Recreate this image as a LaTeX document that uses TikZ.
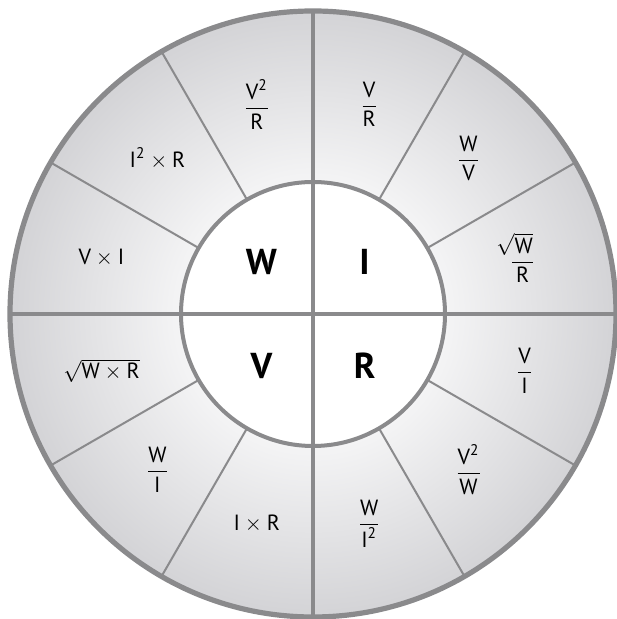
\documentclass[tikz,border=0pt]{standalone}
\usepackage{amsmath}
\usepackage{fontspec}
\setmainfont{PT Sans}
\setsansfont{PT Sans}
\usepackage{tikz}
\definecolor{rimgray}{HTML}{8A8A8C}
\definecolor{ringlight}{HTML}{F4F4F5}
\definecolor{ringdark}{HTML}{D3D3D6}
\pgfdeclareradialshading{ringshade}{\pgfpoint{0bp}{0bp}}{color(0bp)=(ringlight); color(11bp)=(ringlight); color(25bp)=(ringdark); color(50bp)=(ringdark)}
\newcommand{\tq}[1]{\text{#1}}

\begin{document}
\begin{tikzpicture}[x=0.5pt, y=0.5pt, font=\fontsize{11}{13}\selectfont,
    rim/.style={draw=rimgray, line width=2.6pt},
    cross/.style={draw=rimgray, line width=2pt},
    spoke/.style={draw=rimgray, line width=1pt},
    qty/.style={font=\fontsize{18}{21}\selectfont\bfseries}]
	\useasboundingbox (0,0) rectangle (616,619);
	\begin{scope}[shift={(313,305)}]
		% ring and hub
		\shade[shading=ringshade] (0,0) circle[radius=303];
		\fill[white] (0,0) circle[radius=132];
		\draw[spoke] (30:132) -- (30:303) (60:132) -- (60:303)
			(120:132) -- (120:303) (150:132) -- (150:303)
			(210:132) -- (210:303) (240:132) -- (240:303)
			(300:132) -- (300:303) (330:132) -- (330:303);
		\draw[cross] (180:303) -- (0:303) (90:303) -- (270:303);
		\draw[cross] (0,0) circle[radius=132];
		\draw[rim] (0,0) circle[radius=303];
		% quantities
		\node[qty] (W) at (135:73) {W};
		\node[qty] (I) at (45:73) {I};
		\node[qty] (V) at (225:73) {V};
		\node[qty] (R) at (315:73) {R};
		% formulas
		\node (IWR) at (15:217) {$\dfrac{\mkern-13mu\sqrt{\tq{W}}}{\tq{R}}$};
		\node (IWV) at (45:220) {$\dfrac{\tq{W}}{\tq{V}}$};
		\node (IVR) at (75:217) {$\dfrac{\tq{V}}{\tq{R}}$};
		\node (WVR) at (105:217) {$\dfrac{\tq{V}^{\tq{2}}}{\tq{R}}$};
		\node (WIR) at (135:220) {$\tq{I}^{\tq{2}}\times\tq{R}$};
		\node (WVI) at (165:219) {$\tq{V}\times\tq{I}$};
		\node (VWR) at (195:219) {$\sqrt{\tq{W}\times\tq{R}}$};
		\node (VWI) at (225:220) {$\dfrac{\tq{W}}{\tq{I}}$};
		\node (VIR) at (255:217) {$\tq{I}\times\tq{R}$};
		\node (RWI) at (285:217) {$\dfrac{\tq{W}}{\tq{I}^{\tq{2}}}$};
		\node (RVW) at (315:220) {$\dfrac{\tq{V}^{\tq{2}}}{\tq{W}}$};
		\node (RVI) at (345:219) {$\dfrac{\tq{V}}{\tq{I}}$};
	\end{scope}
\end{tikzpicture}
\end{document}
